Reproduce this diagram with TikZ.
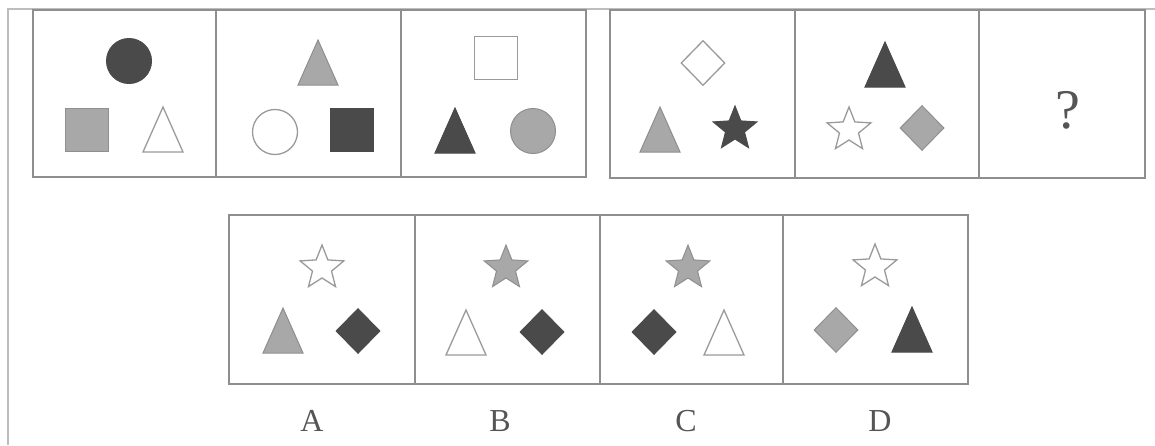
\documentclass[tikz,border=0pt]{standalone}
\usepackage{fontspec}
\setmainfont{Liberation Serif}
\usetikzlibrary{shapes.geometric}
\definecolor{dkc}{HTML}{4A4A4A}
\definecolor{gyc}{HTML}{A8A8A8}
\definecolor{olc}{HTML}{9A9A9A}
\definecolor{frc}{HTML}{8E8E8E}
\definecolor{outc}{HTML}{BDBDBD}
\definecolor{txc}{HTML}{555555}
\tikzset{
  dk/.style={fill=dkc, draw=dkc, line width=1pt},
  gy/.style={fill=gyc, draw=gyc!85!black, line width=1pt},
  wh/.style={fill=white, draw=olc, line width=1.3pt},
  frame/.style={draw=frc, line width=1.6pt},
  outer/.style={draw=outc, line width=1.6pt},
  circ/.style={circle, minimum size=45pt, inner sep=0pt},
  sq/.style={rectangle, minimum size=43pt, inner sep=0pt},
  diam/.style={diamond, minimum width=44pt, minimum height=45pt, inner sep=0pt},
  starsh/.style={star, star points=5, star point ratio=2.3, minimum size=46pt, inner sep=0pt},
  tri/.pic={\path[pic actions] (-20,22) -- (0,-23) -- (20,22) -- cycle;},
  lbl/.style={text=txc, font=\fontsize{32}{32}\selectfont},
}
\begin{document}
\begin{tikzpicture}[x=1pt,y=-1pt]
\path[use as bounding box, fill=white] (0,0) rectangle (1155,445);
% outer frame lines
\draw[outer] (8,445) -- (8,9) -- (1155,9);
% top group 1
\draw[frame] (33,10) rectangle (586,177);
\draw[frame] (216,10) -- (216,177);
\draw[frame] (401,10) -- (401,177);
% top group 2
\draw[frame] (610,10) rectangle (1145,178);
\draw[frame] (795,10) -- (795,178);
\draw[frame] (979,10) -- (979,178);
% bottom row
\draw[frame] (229,215) rectangle (968,384);
\draw[frame] (415,215) -- (415,384);
\draw[frame] (600,215) -- (600,384);
\draw[frame] (783,215) -- (783,384);
% box 1
\node[circ,dk] (c1) at (129,61) {};
\node[sq,gy] (s1) at (87,130) {};
\pic[wh] (t1) at (163,130) {tri};
% box 2
\pic[gy] (t2) at (318,63) {tri};
\node[circ,wh] (c2) at (275,132) {};
\node[sq,dk] (s2) at (352,130) {};
% box 3
\node[sq,wh] (s3) at (496,58) {};
\pic[dk] (t3) at (455,131) {tri};
\node[circ,gy] (c3) at (533,131) {};
% box 4
\node[diam,wh] (d4) at (703,63) {};
\pic[gy] (t4) at (660,130) {tri};
\node[starsh,dk] (st4) at (735,129) {};
% box 5
\pic[dk] (t5) at (885,65) {tri};
\node[starsh,wh] (st5) at (849,130) {};
\node[diam,gy] (d5) at (922,128) {};
% box 6
\node[text=txc, font=\fontsize{56}{56}\selectfont] (q) at (1068,110) {?};
% option A
\node[starsh,wh] (sA) at (322,268) {};
\pic[gy] (tA) at (283,331) {tri};
\node[diam,dk] (dA) at (358,331) {};
% option B
\node[starsh,gy] (sB) at (506,268) {};
\pic[wh] (tB) at (466,333) {tri};
\node[diam,dk] (dB) at (542,332) {};
% option C
\node[starsh,gy] (sC) at (688,268) {};
\node[diam,dk] (dC) at (654,332) {};
\pic[wh] (tC) at (724,333) {tri};
% option D
\node[starsh,wh] (sD) at (875,267) {};
\node[diam,gy] (dD) at (836,330) {};
\pic[dk] (tD) at (912,330) {tri};
% labels
\node[lbl] (lA) at (312,421) {A};
\node[lbl] (lB) at (500,421) {B};
\node[lbl] (lC) at (686,421) {C};
\node[lbl] (lD) at (880,421) {D};
\end{tikzpicture}
\end{document}
